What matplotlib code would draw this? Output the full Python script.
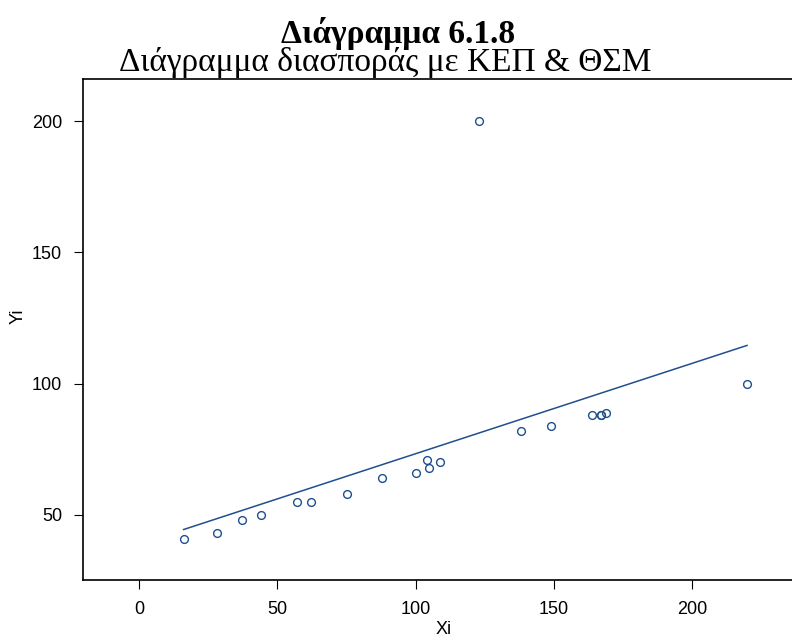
import matplotlib
matplotlib.use("Agg")
import matplotlib.pyplot as plt
import numpy as np

# Data
xi = [16, 28, 37, 44, 57, 62, 75, 88, 100, 104, 105, 109, 123, 138, 149, 164, 167, 167, 169, 220]
yi = [41, 43, 48, 50, 55, 55, 58, 64, 66, 71, 68, 70, 200, 82, 84, 88, 88, 88, 89, 100]
x_ticks = [0, 50, 100, 150, 200]
y_ticks = [50, 100, 150, 200]

title_main = "Διάγραμμα 6.1.8"
title_sub = "Διάγραμμα διασποράς με ΚΕΠ & ΘΣΜ"

color = "#1f4f8e"

fig = plt.figure(figsize=(7.92, 6.4), dpi=100)
ax_w = 1 - 83.3 / 792 + 0.01
ax = fig.add_axes([83.3 / 792, 1 - 580.3 / 640, ax_w, (580.3 - 79.3) / 640])

x = np.array(xi, dtype=float)
y = np.array(yi, dtype=float)
slope, intercept = np.polyfit(x, y, 1)
xl = np.array([x.min(), x.max()])
ax.plot(xl, intercept + slope * xl, color=color, lw=1.1)
ax.plot(x, y, linestyle="none", marker="o", markersize=5.6, markerfacecolor="none",
        markeredgecolor=color, markeredgewidth=1.0)

px_per_unit = 2.762
ax.set_xlim(-20.3, -20.3 + ax_w * 792 / px_per_unit)
ax.set_ylim(25.1, 215.9)
ax.set_xticks(x_ticks)
ax.set_yticks(y_ticks)
for s in ax.spines.values():
    s.set_linewidth(1.2)
ax.tick_params(direction="out", length=6.2, width=0.8, pad=9, labelsize=13)
for lab in ax.get_xticklabels() + ax.get_yticklabels():
    lab.set_fontfamily("Liberation Sans")

ax_w_px = ax_w * 792
ax.set_xlabel("Xi", fontsize=13, family="Liberation Sans")
ax.set_ylabel("Yi", fontsize=13, family="Liberation Sans")
ax.xaxis.set_label_coords((443.3 - 83.3) / ax_w_px, -(630 - 580.3) / 501)
ax.yaxis.set_label_coords(-(83.3 - 18) / ax_w_px, (580.3 - 316.7) / 501)
ax.xaxis.label.set_va("center")
ax.yaxis.label.set_va("center")

fig.text(398 / 792, 1 - 43.5 / 640, title_main, ha="center", va="baseline",
         fontsize=24, fontweight="bold", family="Liberation Serif")
fig.text(385 / 792, 1 - 71.5 / 640, title_sub, ha="center", va="baseline",
         fontsize=24, family="Liberation Serif")

fig.savefig("out.png", dpi=100)
